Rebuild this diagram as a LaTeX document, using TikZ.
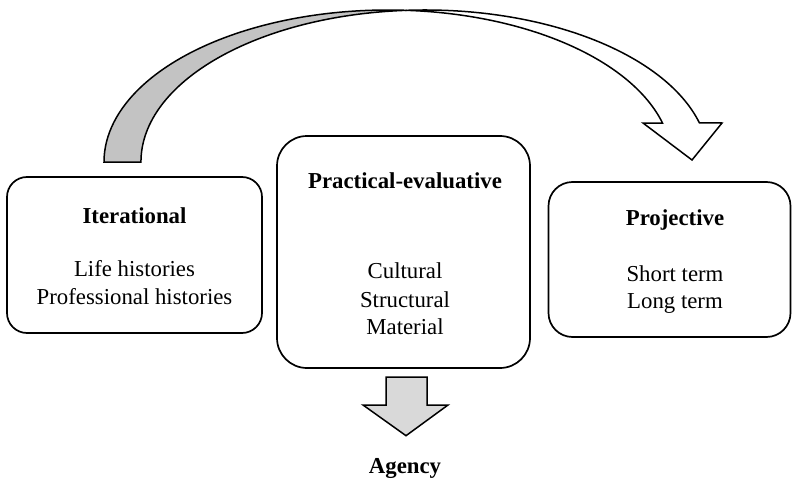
\documentclass[tikz,border=0pt]{standalone}
\usepackage{fontspec}
\setmainfont{Liberation Serif}
\begin{document}
\begin{tikzpicture}[x=1pt,y=1pt,
  box/.style={draw=black, line width=1.7pt, fill=white, inner sep=0pt},
  txt/.style={anchor=base, inner sep=0pt, font=\fontsize{22.8}{27}\selectfont},
  ttl/.style={txt, font=\fontsize{22.8}{27}\selectfont\bfseries},
  shapeline/.style={draw=black, line width=1.5pt, line join=miter}]
\useasboundingbox (0,0) rectangle (792,483);
\definecolor{bandgray}{HTML}{C3C3C3}
\definecolor{arrowgray}{HTML}{D9D9D9}

% curved arrow: back (grey) part
\path[shapeline, fill=bandgray] (104,321)
  arc[start angle=180, end angle=86.27, x radius=284, y radius=152]
  arc[start angle=93.73, end angle=180, x radius=284, y radius=152] -- cycle;
% curved arrow: front (white) part with head
\path[shapeline, fill=white] (406.5,472.68)
  arc[start angle=93.73, end angle=14.87, x radius=284, y radius=152]
  -- (722,360) -- (692,323) -- (643,360) -- (662.5,360)
  arc[start angle=14.87, end angle=86.27, x radius=284, y radius=152] -- cycle;

% boxes
\node[box, rounded corners=20pt, minimum width=255pt, minimum height=156pt] (iter) at (134.5,228) {};
\node[box, rounded corners=30pt, minimum width=253pt, minimum height=232pt] (prac) at (403.5,231) {};
\node[box, rounded corners=24pt, minimum width=242pt, minimum height=155pt] (proj) at (669.5,223.5) {};

% texts
\node[ttl] (t1) at (134.5,259.7) {Iterational};
\node[txt] (t1a) at (134.5,207) {Life histories};
\node[txt] (t1b) at (134.5,179) {Professional histories};

\node[ttl] (t2) at (405,295) {Practical-evaluative};
\node[txt] (t2a) at (405,205) {Cultural};
\node[txt] (t2b) at (405,176) {Structural};
\node[txt] (t2c) at (405,149) {Material};

\node[ttl] (t3) at (675,258) {Projective};
\node[txt] (t3a) at (675,202) {Short term};
\node[txt] (t3b) at (675,175) {Long term};

\node[ttl] (agency) at (405,10) {Agency};

% down block arrow
\path[shapeline, fill=arrowgray] (386,106) -- (427,106) -- (427,78) -- (448,78)
  -- (406,47.3) -- (363,78) -- (386,78) -- cycle;
\end{tikzpicture}
\end{document}
